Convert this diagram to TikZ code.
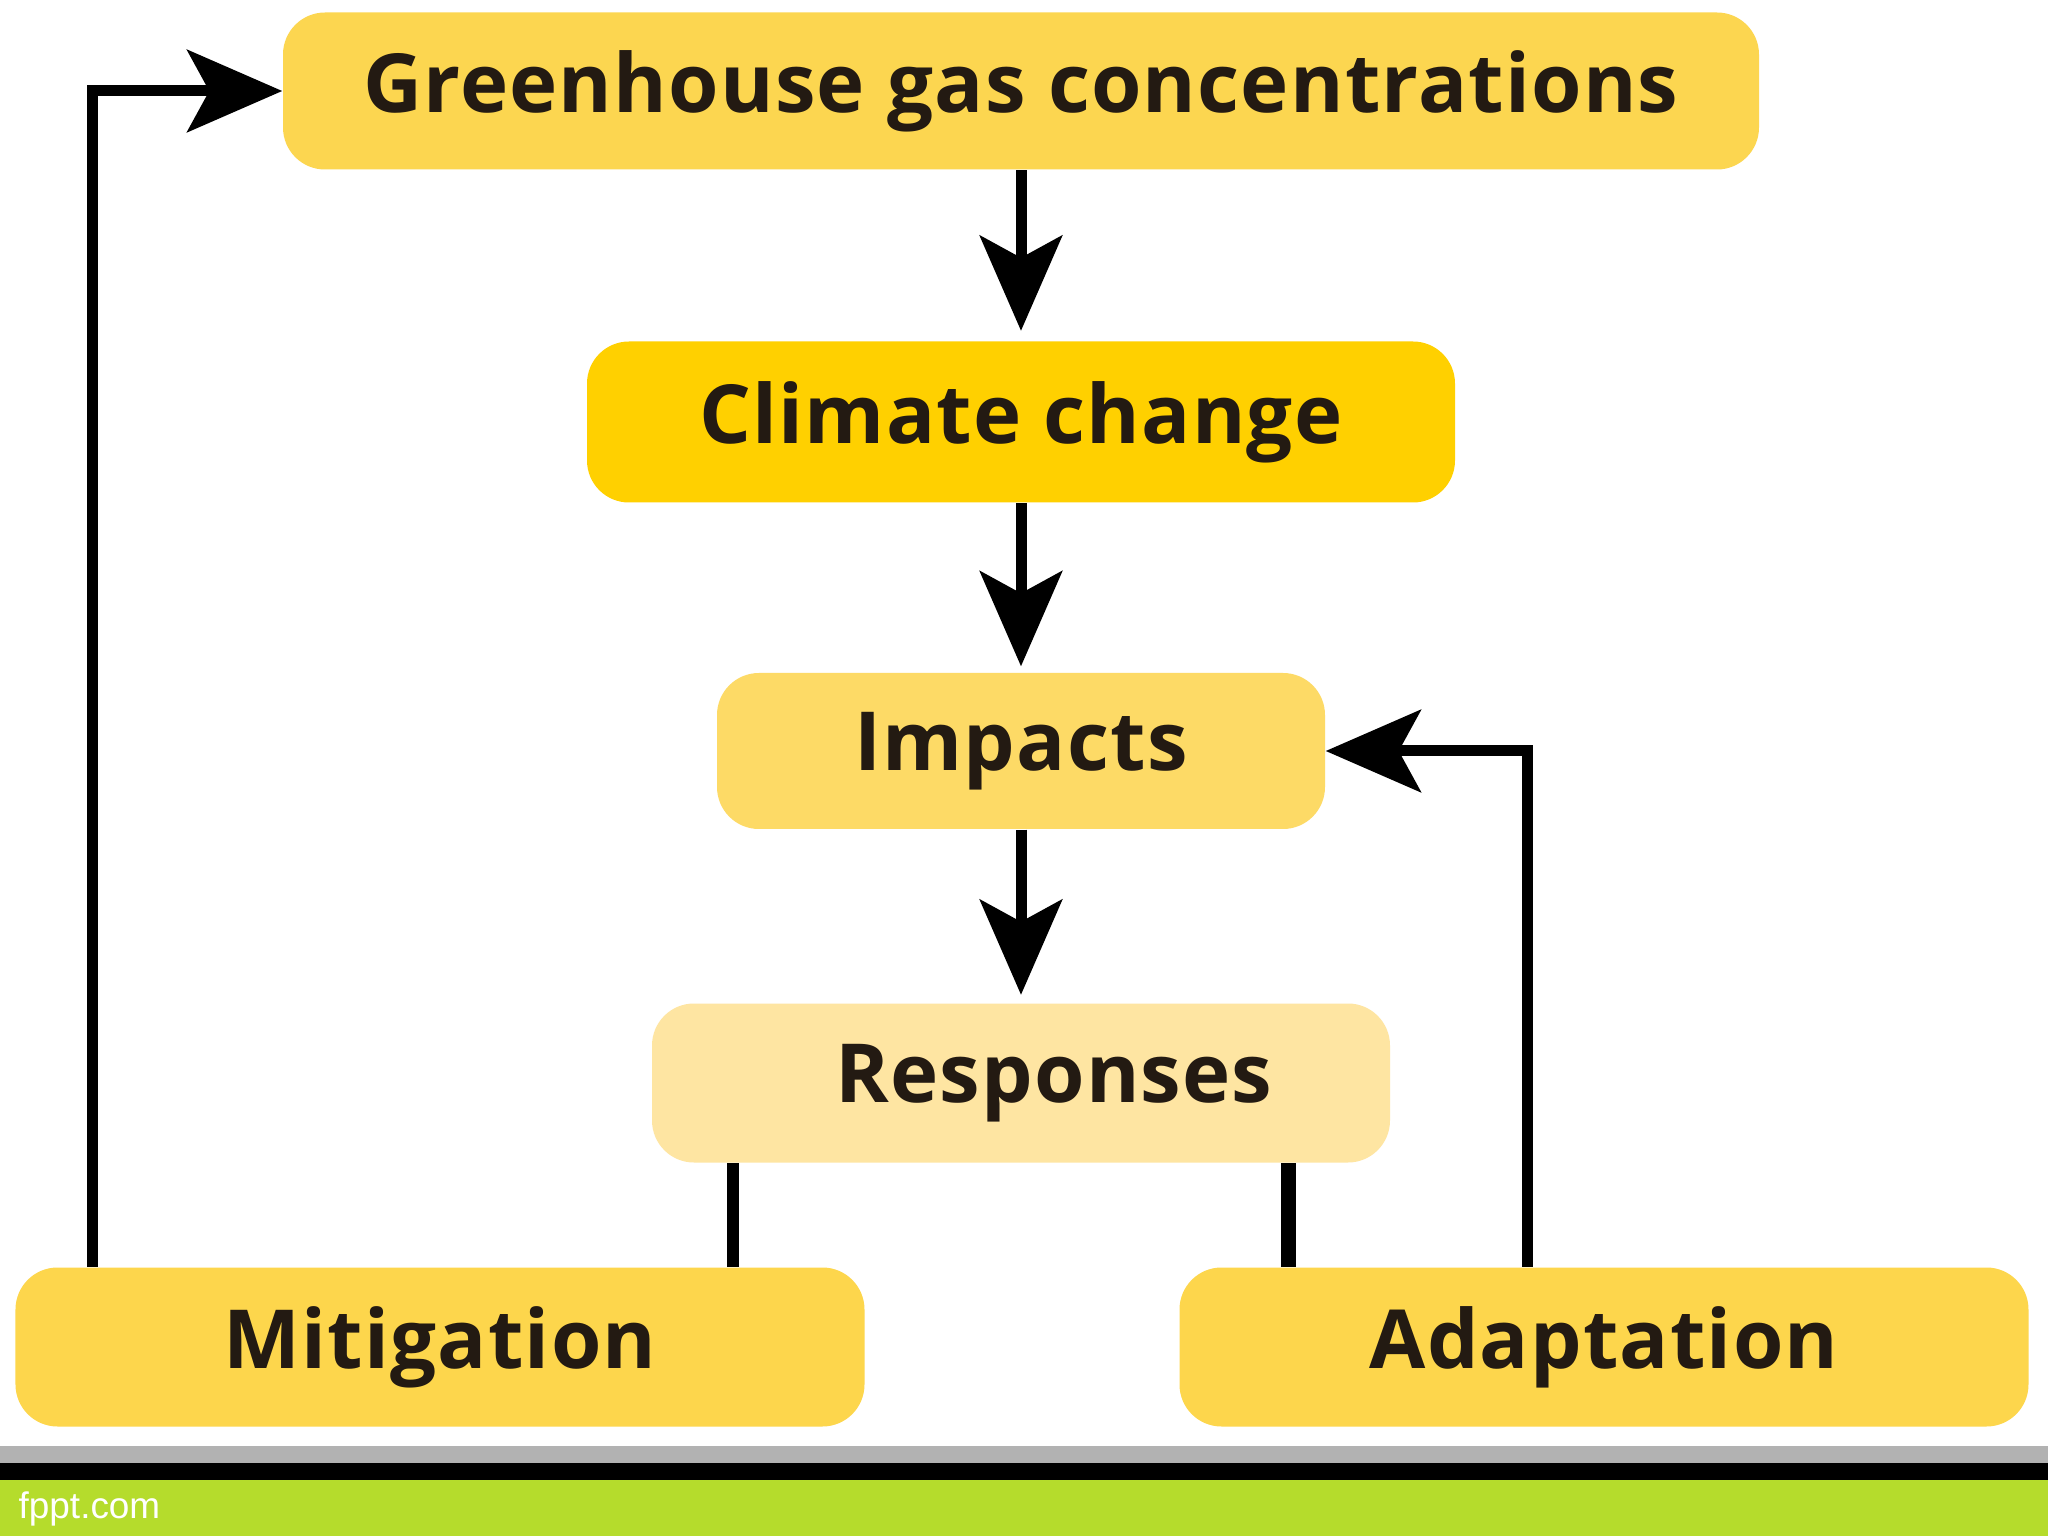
\documentclass[tikz,border=0pt]{standalone}
\usepackage{fontspec}
\setmainfont{Open Sans}[LetterSpace=1.5]
\newfontfamily\barfont{Liberation Sans}
\usetikzlibrary{arrows.meta}
\definecolor{boxtext}{HTML}{231A12}
\definecolor{ghgfill}{HTML}{FCD650}
\definecolor{ccfill}{HTML}{FFD000}
\definecolor{impfill}{HTML}{FDDA66}
\definecolor{resfill}{HTML}{FEE5A2}
\definecolor{respfill}{HTML}{FDD64C}
\definecolor{bargreen}{HTML}{B5DC2C}
\begin{document}
\begin{tikzpicture}[>={Stealth[length=0.95cm,width=0.82cm,inset=0.22cm]},
  box/.style={rectangle, rounded corners=0.42cm, inner sep=0pt, text=boxtext,
    font=\bfseries\fontsize{23.2}{27}\selectfont},
  link/.style={line width=0.11cm}]
\useasboundingbox (0,0) rectangle (20.48,-15.36);
\fill[white] (0,0) rectangle (20.48,-15.36);
% boxes
\node[box, fill=ghgfill, minimum width=14.76cm, minimum height=1.57cm] (ghg) at (10.21,-0.91) {Greenhouse gas concentrations};
\node[box, fill=ccfill, minimum width=8.68cm, minimum height=1.61cm] (cc) at (10.21,-4.22) {Climate change};
\node[box, fill=impfill, minimum width=6.08cm, minimum height=1.56cm] (imp) at (10.21,-7.51) {Impacts};
\node[box, fill=resfill, minimum width=7.38cm, minimum height=1.59cm] (res) at (10.21,-10.83) {\hspace*{0.66cm}Responses};
\node[box, fill=respfill, minimum width=8.49cm, minimum height=1.59cm] (mit) at (4.40,-13.47) {Mitigation};
\node[box, fill=respfill, minimum width=8.49cm, minimum height=1.59cm] (ada) at (16.04,-13.47) {Adaptation};
% arrows
\draw[->, link, shorten >=0.1cm] (ghg) -- (cc);
\draw[->, link, shorten >=0.06cm] (cc) -- (imp);
\draw[->, link, shorten >=0.08cm] (imp) -- (res);
\draw[->, link] ([xshift=0.78cm]mit.north west) |- (ghg.west);
\draw[->, link] ([xshift=3.49cm]ada.north west) |- (imp.east);
\coordinate (rl) at ([xshift=0.82cm]res.south west);
\coordinate (rr) at ([xshift=6.37cm]res.south west);
\draw[line width=0.12cm] (rl) -- (rl |- mit.north);
\draw[line width=0.15cm] (rr) -- (rr |- ada.north);
% footer bar
\fill[black!30] (0,-14.46) rectangle (20.48,-14.63);
\fill[black] (0,-14.63) rectangle (20.48,-14.80);
\fill[bargreen] (0,-14.80) rectangle (20.48,-15.36);
\node[anchor=base west, inner sep=0pt, text=white, font=\barfont\fontsize{10.5}{12}\selectfont] (site) at (0.18,-15.18) {fppt.com};
\end{tikzpicture}
\end{document}
